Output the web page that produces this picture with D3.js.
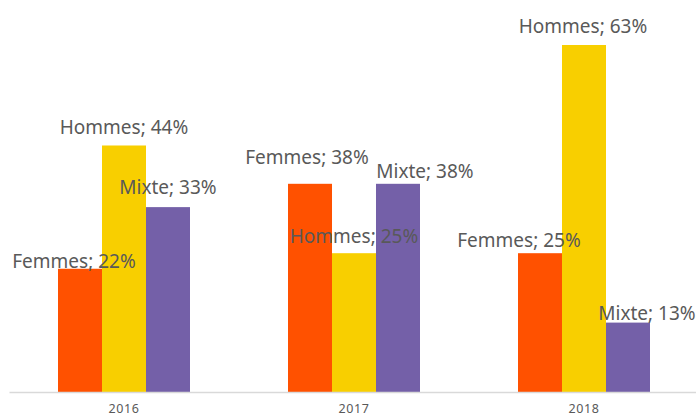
<!DOCTYPE html>
<html>
<head>
<meta charset="utf-8">
<script src="https://cdn.jsdelivr.net/npm/d3@7"></script>
<style>
  body { margin: 0; background: #fff; }
  svg { display: block; }
</style>
</head>
<body>
<svg id="chart" width="696" height="419"></svg>
<script>
// Data (share of each group per year, in %)
var years = ['2016', '2017', '2018'];
var series = ['Femmes', 'Hommes', 'Mixte'];
var femmes = [22.2, 37.5, 25];
var hommes = [44.4, 25, 62.5];
var mixte = [33.3, 37.5, 12.5];

var colors = ['#ff5100', '#f8cf00', '#7460a8'];

// hand-placed label nudges (dx, dy from the bar top), like the dragged labels in the original
var labelNudge = [
  [[-6, -1], [0, -11], [0, -13]],
  [[-3, -20], [0, -10], [27, -6]],
  [[-21, -6], [-1, -12], [19, -3]]
];

var svg = d3.select('#chart');
var baseY = 392;

var x0 = d3.scaleBand().domain(years).range([9, 699]);
var x1 = d3.scaleBand().domain(series).range([0, x0.bandwidth()]).paddingOuter(1.114);
var y = d3.scaleLinear().domain([0, 70]).range([baseY, baseY - 70 * 5.552]);

var rows = years.map((yr, i) => ({
  year: yr,
  values: [femmes[i], hommes[i], mixte[i]]
}));

var groups = svg.selectAll('g.year')
  .data(rows)
  .enter().append('g')
  .attr('class', 'year')
  .attr('transform', d => `translate(${x0(d.year)},0)`);

groups.selectAll('rect')
  .data(d => d.values.map((v, j) => ({ key: series[j], value: v, j: j })))
  .enter().append('rect')
  .attr('x', d => x1(d.key))
  .attr('width', x1.bandwidth())
  .attr('y', d => y(d.value))
  .attr('height', d => baseY - y(d.value))
  .attr('fill', d => colors[d.j]);

// axis
var axis = svg.append('g')
  .attr('transform', `translate(0,${baseY})`)
  .call(d3.axisBottom(x0).tickSize(0).tickPadding(12));
axis.select('.domain').attr('stroke', '#d9d9d9').attr('stroke-width', 1.5);
axis.selectAll('text')
  .attr('fill', '#595959')
  .style('font-family', 'Noto Sans')
  .style('font-size', '12.5px')
  .style('letter-spacing', '0.6px');

// data labels drawn after bars so they sit on top
rows.forEach((r, i) => {
  r.values.forEach((v, j) => {
    svg.append('text')
      .attr('x', x0(r.year) + x1(series[j]) + x1.bandwidth() / 2 + labelNudge[i][j][0])
      .attr('y', y(v) + labelNudge[i][j][1])
      .attr('text-anchor', 'middle')
      .attr('fill', '#595959')
      .style('font-family', 'Noto Sans')
      .style('font-size', '19px')
      .text(`${series[j]}; ${Math.round(v)}%`);
  });
});
</script>
</body>
</html>
